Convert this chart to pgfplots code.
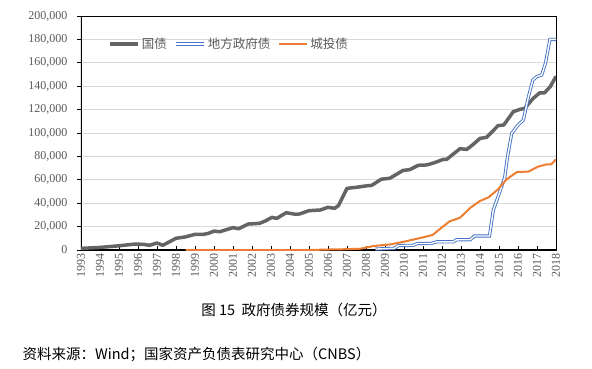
\documentclass[border=0pt]{standalone}
\usepackage{fontspec}
\setmainfont{Liberation Serif}
\newfontfamily\cjk{Noto Sans CJK SC}
\usepackage{pgfplots}
\pgfplotsset{compat=1.18}
\definecolor{tickgray}{RGB}{89,89,89}
\definecolor{gbgray}{RGB}{100,100,100}
\definecolor{lgblue}{RGB}{68,114,196}
\definecolor{cto}{RGB}{237,125,49}
\definecolor{gridgray}{RGB}{217,217,217}
\begin{document}
\begin{tikzpicture}[x=1pt,y=1pt]
\useasboundingbox (0,0) rectangle (592,368);
\begin{axis}[
  at={(81pt,118pt)}, anchor=south west,
  scale only axis, width=475pt, height=234pt,
  xmin=1993, xmax=2018, ymin=0, ymax=200000,
  xtick={1993,...,2018},
  ytick={0,20000,...,200000},
  scaled y ticks=false,
  /pgf/number format/fixed,
  /pgf/number format/assume math mode=true,
  xticklabel style={/pgf/number format/fixed, /pgf/number format/1000 sep={}, rotate=90, anchor=east, font=\fontsize{12}{12}\selectfont, text=tickgray},
  yticklabel style={/pgf/number format/fixed, /pgf/number format/1000 sep={,}, font=\fontsize{12}{12}\selectfont, text=tickgray, anchor=east},
  yticklabel shift=10pt,
  xtick pos=left, ytick pos=left,
  tick align=inside,
  major tick length=4pt,
  major y tick style={black, xshift=-4pt, line width=0.8pt},
  major x tick style={black, line width=0.8pt},
  axis line style={black, line width=0.8pt},
  extra y ticks={20000,40000,...,180000},
  extra y tick labels={},
  extra y tick style={grid=major, major grid style={gridgray, line width=0.8pt}},
  legend columns=3,
  legend cell align=left,
  legend image code/.code={\draw[#1] (0pt,0pt) -- (28pt,0pt);},
  legend style={at={(rel axis cs:0.057,0.88)}, anchor=west, draw=none, fill=none, inner sep=0pt,
    font=\cjk\fontsize{12.5}{12.5}\selectfont, text=tickgray,
    /tikz/every even column/.append style={column sep=6pt},
    /tikz/every odd column/.append style={column sep=0pt}},
]
\draw[black, line width=2pt] (rel axis cs:0,1) -- (rel axis cs:0,0) -- (rel axis cs:1,0);

\addplot[gbgray, line width=3.5pt, line join=round] coordinates {
(1993.0,1400) (1994.0,2200) (1995.0,3600) (1995.5,4500) (1995.85,5100) (1996.3,4800)
(1996.6,4000) (1997.0,6000) (1997.3,4000) (1997.5,5700) (1998.0,10000) (1998.5,11200)
(1999.0,13400) (1999.45,13400) (1999.7,14200) (2000.0,16200) (2000.3,15600) (2001.0,19100)
(2001.3,18200) (2001.8,22200) (2002.4,22800) (2002.7,24800) (2003.05,27900) (2003.3,27000)
(2003.8,31900) (2004.3,30500) (2004.5,30800) (2005.0,33600) (2005.6,34200) (2006.0,36500)
(2006.35,35600) (2006.55,38000) (2007.0,52700) (2007.5,53600) (2008.1,55000) (2008.3,55200)
(2008.8,60500) (2009.25,61300) (2009.95,68000) (2010.3,68700) (2010.75,72400) (2011.2,72700)
(2011.6,74600) (2012.07,77500) (2012.25,77500) (2012.6,82100) (2012.95,86600) (2013.3,86000)
(2013.6,89700) (2014.0,95400) (2014.35,96300) (2014.95,106300) (2015.25,106800) (2015.75,118200)
(2016.1,120200) (2016.35,121000) (2016.8,129600) (2017.15,134400) (2017.4,134400) (2017.7,139700)
(2018.0,148400)
};
\addlegendentry{国债}

\addplot[lgblue, line width=0.9pt, double=white, double distance=1.4pt] coordinates {
(2008.5,800) (2009.5,1500) (2009.7,3800) (2010.5,4000) (2010.7,5600) (2011.4,5500)
(2011.72,7000) (2012.6,7000) (2012.75,8700) (2013.5,8800) (2013.7,12000) (2014.5,12000)
(2014.7,34200) (2015.05,50000) (2015.3,62000) (2015.45,80000) (2015.67,99700) (2016.0,106800)
(2016.28,111000) (2016.55,131000) (2016.78,145300) (2017.0,148300) (2017.25,149600) (2017.45,160000)
(2017.68,180000) (2018.0,180000)
};
\addlegendentry{地方政府债}

\addplot[cto, line width=2pt, line join=round] coordinates {
(1998.5,0) (2005.0,0) (2006.0,400) (2007.0,700) (2007.7,1100) (2008.4,3400) (2009.3,4800)
(2010.0,7100) (2011.0,10800) (2011.5,12800) (2012.0,19400) (2012.4,24500) (2012.95,27600)
(2013.5,36200) (2014.0,41900) (2014.45,45000) (2014.95,51900) (2015.4,60400) (2015.95,66700)
(2016.55,67000) (2017.05,71200) (2017.5,73200) (2017.75,73200) (2018.0,77500)
};
\addlegendentry{城投债}
\end{axis}
\node[font=\cjk\fontsize{14.5}{14.5}\selectfont] at (294,58) {图 15\ \ 政府债券规模（亿元）};
\node[anchor=west, font=\cjk\fontsize{14.5}{14.5}\selectfont] at (19,14) {资料来源：Wind；国家资产负债表研究中心（CNBS）};
\end{tikzpicture}
\end{document}
